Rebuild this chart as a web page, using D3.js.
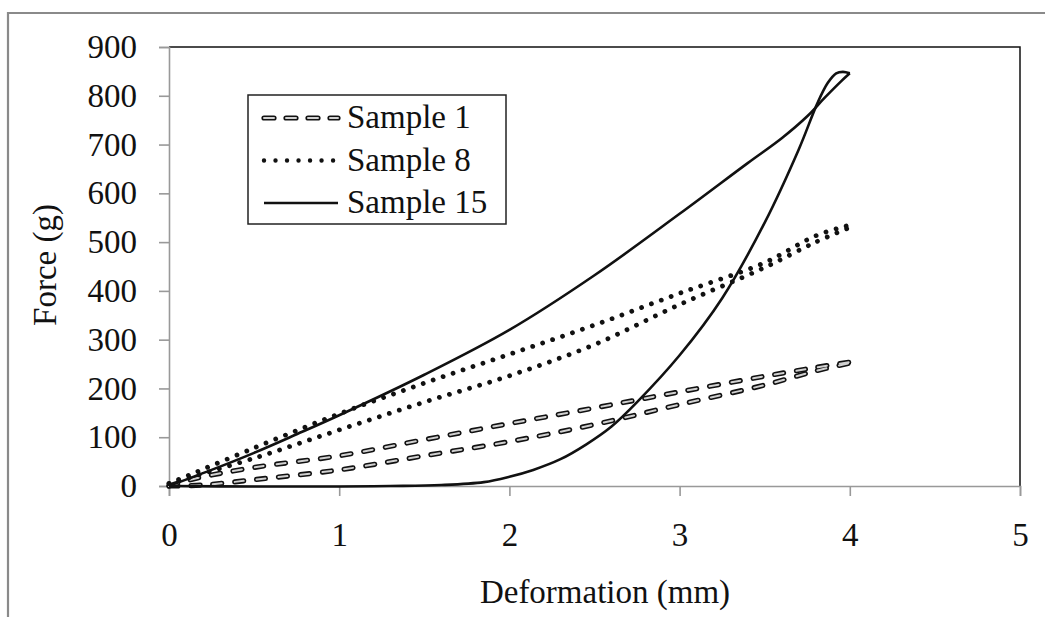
<!DOCTYPE html>
<html>
<head>
<meta charset="utf-8">
<script src="https://cdnjs.cloudflare.com/ajax/libs/d3/7.8.5/d3.min.js"></script>
<style>
  body { margin: 0; background: #fff; }
  text { font-family: "Liberation Serif", "Times New Roman", serif; fill: #111; }
</style>
</head>
<body>
<svg id="chart" width="1045" height="617"></svg>
<script>
// deformation (mm), force (g)
let xTicks = [0, 1, 2, 3, 4, 5]
let yTicks = [0, 100, 200, 300, 400, 500, 600, 700, 800, 900]

let sample1Upper = [[0, 0], [0.15, 15], [0.5, 38], [1, 62], [1.5, 95], [2, 128], [2.5, 160], [3, 193], [3.5, 225], [3.8, 243], [4, 254]]
let sample1Lower = [[0, 0], [0.2, 2], [0.5, 13], [1, 33], [1.5, 62], [2, 91], [2.5, 126], [3, 167], [3.5, 207], [3.8, 236], [4, 252]]

let sample8Upper = [[0, 5], [0.5, 78], [1, 148], [1.5, 211], [2, 270], [2.5, 330], [3, 395], [3.5, 458], [3.8, 513], [4, 535]]
let sample8Lower = [[0, 5], [0.5, 57], [1, 115], [1.5, 172], [2, 226], [2.5, 290], [3, 372], [3.5, 448], [3.8, 500], [4, 530]]

let sample15Load = [[0, 0], [0.25, 33], [0.5, 68], [0.75, 106], [1, 145], [1.5, 228], [2, 320], [2.5, 432], [3, 558], [3.4, 662], [3.6, 713], [3.75, 758], [3.85, 795], [3.95, 830], [4, 846]]
let sample15Unload = [[4, 846], [3.96, 849], [3.92, 846], [3.87, 826], [3.81, 785], [3.7, 690], [3.5, 540], [3.25, 385], [3, 268], [2.75, 172], [2.6, 122], [2.45, 85], [2.3, 55], [2.14, 33], [2, 19], [1.85, 8], [1.6, 2], [1.3, 0], [1, -1], [0.5, -1], [0, 0]]

let legendNames = ["Sample 1", "Sample 8", "Sample 15"]

let margin = { top: 47, right: 25, bottom: 131, left: 169 }
let width = 1045 - margin.left - margin.right
let height = 617 - margin.top - margin.bottom

let svg = d3.select("#chart")

// outer frame (only top and left edges are in view)
svg.append("path")
  .attr("d", "M8,617 L8,13 L1045,13")
  .attr("fill", "none")
  .attr("stroke", "#8a8a8a")
  .attr("stroke-width", 2.2)

let chart = svg.append("g")
  .attr("transform", "translate(" + margin.left + "," + margin.top + ")")

let x = d3.scaleLinear()
  .domain([0, 5])
  .range([0, width])

let y = d3.scaleLinear()
  .domain([0, 900])
  .range([height, 0])

// top and right border of plot area
chart.append("path")
  .attr("d", "M0,0 L" + width + ",0 L" + width + "," + height)
  .attr("fill", "none")
  .attr("stroke", "#111")
  .attr("stroke-width", 1.5)

let xAxis = d3.axisBottom(x)
  .tickValues(xTicks)
  .tickFormat(d3.format("d"))
  .tickSize(10)
  .tickPadding(25)

let yAxis = d3.axisLeft(y)
  .tickValues(yTicks)
  .tickFormat(d3.format("d"))
  .tickSize(10)
  .tickPadding(22)

let gx = chart.append("g")
  .attr("id", "x-axis")
  .attr("transform", "translate(0," + height + ")")
  .call(xAxis)

let gy = chart.append("g")
  .attr("id", "y-axis")
  .call(yAxis)

chart.selectAll(".domain, .tick line")
  .attr("stroke", "#999")
  .attr("stroke-width", 1.6)

chart.selectAll(".tick text")
  .attr("font-size", 33)
  .style("font-family", "'Liberation Serif', serif")
  .attr("fill", "#111")

gx.selectAll(".tick text").attr("dy", "0.75em")

let line = d3.line()
  .x(function(d) { return x(d[0]) })
  .y(function(d) { return y(d[1]) })
  .curve(d3.curveCatmullRom.alpha(0.5))

// sample 1: outlined dashes
let s1 = [sample1Upper, sample1Lower]
chart.selectAll(".s1out")
  .data(s1)
  .enter()
  .append("path")
  .attr("class", "s1out")
  .attr("d", line)
  .attr("fill", "none")
  .attr("stroke", "#111")
  .attr("stroke-width", 5.2)
  .attr("stroke-linecap", "round")
  .attr("stroke-dasharray", "9,13")

chart.selectAll(".s1in")
  .data(s1)
  .enter()
  .append("path")
  .attr("class", "s1in")
  .attr("d", line)
  .attr("fill", "none")
  .attr("stroke", "#d0d0d0")
  .attr("stroke-width", 2)
  .attr("stroke-linecap", "round")
  .attr("stroke-dasharray", "9,13")

// sample 8: dots
chart.selectAll(".s8")
  .data([sample8Upper, sample8Lower])
  .enter()
  .append("path")
  .attr("class", "s8")
  .attr("d", line)
  .attr("fill", "none")
  .attr("stroke", "#111")
  .attr("stroke-width", 4.8)
  .attr("stroke-linecap", "round")
  .attr("stroke-dasharray", "0.01,10.5")

// sample 15: solid
chart.selectAll(".s15")
  .data([sample15Load, sample15Unload])
  .enter()
  .append("path")
  .attr("class", "s15")
  .attr("d", line)
  .attr("fill", "none")
  .attr("stroke", "#111")
  .attr("stroke-width", 2.6)

// legend
let legend = svg.append("g")
  .attr("transform", "translate(248,95)")

legend.append("rect")
  .attr("width", 258)
  .attr("height", 129)
  .attr("fill", "#fff")
  .attr("stroke", "#222")
  .attr("stroke-width", 1.5)

let rows = legend.selectAll(".row")
  .data(legendNames)
  .enter()
  .append("g")
  .attr("class", "row")
  .attr("transform", function(d, i) {
    return "translate(0," + (23 + i * 42.5) + ")"
  })

rows.each(function(d, i) {
  let g = d3.select(this)
  if (i === 0) {
    g.append("line").attr("x1", 16).attr("x2", 90)
      .attr("stroke", "#111").attr("stroke-width", 5.2)
      .attr("stroke-linecap", "round").attr("stroke-dasharray", "10,12")
    g.append("line").attr("x1", 16).attr("x2", 90)
      .attr("stroke", "#d0d0d0").attr("stroke-width", 2)
      .attr("stroke-linecap", "round").attr("stroke-dasharray", "10,12")
  } else if (i === 1) {
    g.append("line").attr("x1", 16).attr("x2", 88)
      .attr("stroke", "#111").attr("stroke-width", 4.4)
      .attr("stroke-linecap", "round").attr("stroke-dasharray", "0.01,11.5")
  } else {
    g.append("line").attr("x1", 16).attr("x2", 90)
      .attr("stroke", "#111").attr("stroke-width", 2.6)
  }
  g.append("text")
    .attr("x", 99)
    .attr("y", 10)
    .attr("font-size", 33)
    .text(d)
})

// axis titles
svg.append("text")
  .attr("x", 605)
  .attr("y", 603)
  .attr("text-anchor", "middle")
  .attr("font-size", 33)
  .text("Deformation (mm)")

svg.append("text")
  .attr("transform", "translate(56,265) rotate(-90)")
  .attr("text-anchor", "middle")
  .attr("font-size", 33)
  .text("Force (g)")
</script>
</body>
</html>
